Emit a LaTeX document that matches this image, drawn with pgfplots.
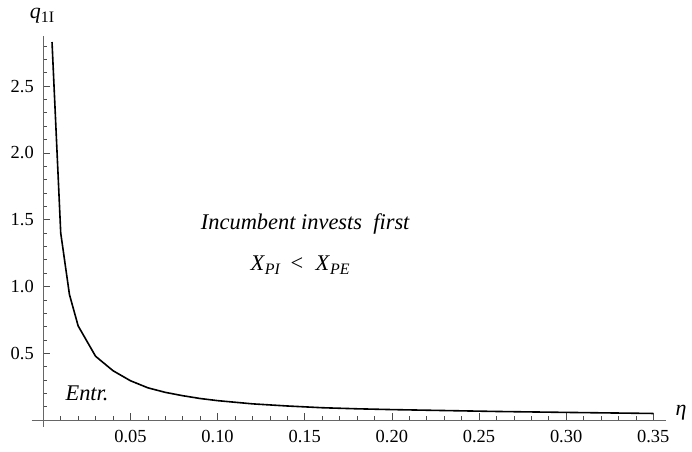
\documentclass[border=0pt]{standalone}
\usepackage{fontspec}
\setmainfont{Liberation Serif}
\usepackage{pgfplots}
\pgfplotsset{compat=1.18}

\pgfplotstableread{
eta    q
0.005  2.83
0.010  1.40
0.015  0.94
0.020  0.705
0.030  0.478
0.040  0.370
0.050  0.295
0.060  0.242
0.070  0.208
0.080  0.183
0.090  0.162
0.100  0.146
0.120  0.122
0.140  0.106
0.160  0.093
0.180  0.085
0.200  0.079
0.230  0.072
0.260  0.065
0.300  0.058
0.350  0.050
}\qdata

% subscripted italic symbol in the text face
\newcommand{\Xsub}[1]{\textit{X}\raisebox{-0.4ex}{\fontsize{16}{18}\selectfont\textit{#1}}}

\begin{document}
\begin{tikzpicture}
\useasboundingbox (-31.7bp,-25.3bp) rectangle (660.3bp,426.7bp);
\begin{axis}[
  scale only axis,
  width=634.3bp, height=390.7bp,
  xmin=-0.00666, xmax=0.3573,
  ymin=-0.049, ymax=2.875,
  axis lines=middle,
  axis line style={color=black!60, line width=0.8bp, -},
  clip=false,
  xtick={0.05,0.10,0.15,0.20,0.25,0.30,0.35},
  ytick={0.5,1.0,1.5,2.0,2.5},
  minor xtick={0.01,0.02,0.03,0.04,0.06,0.07,0.08,0.09,0.11,0.12,0.13,0.14,0.16,0.17,0.18,0.19,0.21,0.22,0.23,0.24,0.26,0.27,0.28,0.29,0.31,0.32,0.33,0.34},
  minor ytick={0.1,0.2,0.3,0.4,0.6,0.7,0.8,0.9,1.1,1.2,1.3,1.4,1.6,1.7,1.8,1.9,2.1,2.2,2.3,2.4,2.6,2.7,2.8},
  tick align=inside,
  major tick length=7bp,
  minor tick length=4bp,
  tick style={color=black!70, line width=0.7bp},
  ticklabel style={font=\rmfamily\fontsize{18.5}{21}\selectfont, text=black},
  xticklabel style={yshift=-6.5bp, /pgf/number format/fixed, /pgf/number format/fixed zerofill, /pgf/number format/precision=2, /pgf/number format/assume math mode=true},
  yticklabel style={xshift=-6bp, /pgf/number format/fixed, /pgf/number format/fixed zerofill, /pgf/number format/precision=1, /pgf/number format/assume math mode=true},
]
\addplot[black, line width=1.6bp] table[x=eta, y=q] {\qdata};

\node[font=\fontsize{22}{26}\selectfont] at (axis cs:0.366,0.053) {\textit{η}};
\node[font=\fontsize{22}{26}\selectfont] at (axis cs:-0.0007,3.03)
  {\textit{q}\raisebox{-0.4ex}{\fontsize{16}{18}\selectfont 1I}};
\node[font=\fontsize{22.5}{26}\selectfont] at (axis cs:0.1504,1.468)
  {\textit{Incumbent invests~ first}};
\node[font=\fontsize{22.5}{26}\selectfont] at (axis cs:0.1473,1.161)
  {\Xsub{PI}\hspace{0.45em}<\hspace{0.55em}\Xsub{PE}};
\node[font=\fontsize{22.5}{26}\selectfont] at (axis cs:0.0251,0.203)
  {\textit{Entr.}};
\end{axis}
\end{tikzpicture}
\end{document}
